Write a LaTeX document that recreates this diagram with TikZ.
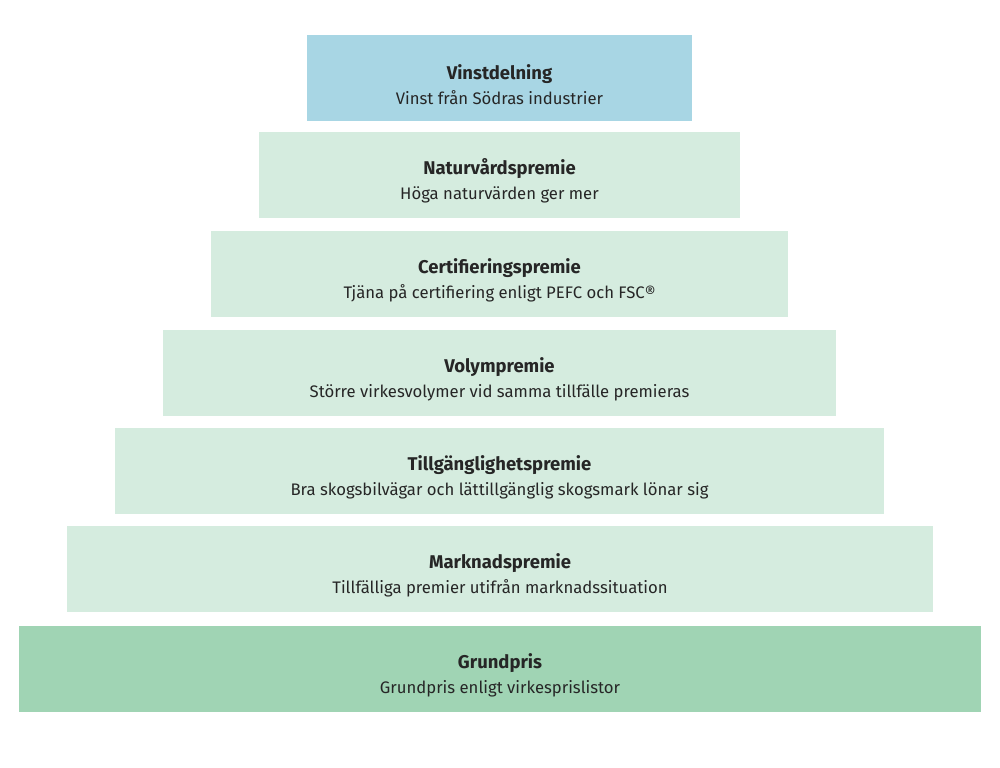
\documentclass[tikz,border=0pt]{standalone}
\usepackage{fontspec}
\setmainfont{Fira Sans}
\usepackage{tikz}
\usetikzlibrary{positioning}

\definecolor{topcolor}{RGB}{168,214,228}
\definecolor{midcolor}{RGB}{213,236,223}
\definecolor{basecolor}{RGB}{160,212,180}

\tikzset{
    layer/.style={minimum height=1.72cm, inner sep=0pt, align=center, text=black!85,
        font=\fontsize{9.5}{14}\selectfont},
}

\newcommand{\layertext}[2]{\rule{0pt}{16pt}{\fontsize{10.5}{14}\selectfont\textbf{#1}}\\#2}

\begin{document}
\begin{tikzpicture}
    % Frame
    \useasboundingbox (0,0) rectangle (20,-15.36);

    % Top layer
    \node[layer, fill=topcolor, minimum width=7.7cm] (vinst) at (9.99,-1.56)
        {\layertext{Vinstdelning}{Vinst från Södras industrier}};

    % Middle layers
    \node[layer, fill=midcolor, minimum width=9.62cm] (natur) at (9.99,-3.5)
        {\layertext{Naturvårdspremie}{Höga naturvärden ger mer}};
    \node[layer, fill=midcolor, minimum width=11.54cm] (cert) at (9.99,-5.48)
        {\layertext{Certifieringspremie}{Tjäna på certifiering enligt PEFC och FSC®}};
    \node[layer, fill=midcolor, minimum width=13.46cm] (volym) at (9.99,-7.45)
        {\layertext{Volympremie}{Större virkesvolymer vid samma tillfälle premieras}};
    \node[layer, fill=midcolor, minimum width=15.38cm] (tillg) at (9.99,-9.42)
        {\layertext{Tillgänglighetspremie}{Bra skogsbilvägar och lättillgänglig skogsmark lönar sig}};
    \node[layer, fill=midcolor, minimum width=17.32cm] (marknad) at (10,-11.38)
        {\layertext{Marknadspremie}{Tillfälliga premier utifrån marknadssituation}};

    % Base layer
    \node[layer, fill=basecolor, minimum width=19.24cm] (grund) at (10,-13.37)
        {\layertext{Grundpris}{Grundpris enligt virkesprislistor}};
\end{tikzpicture}
\end{document}
